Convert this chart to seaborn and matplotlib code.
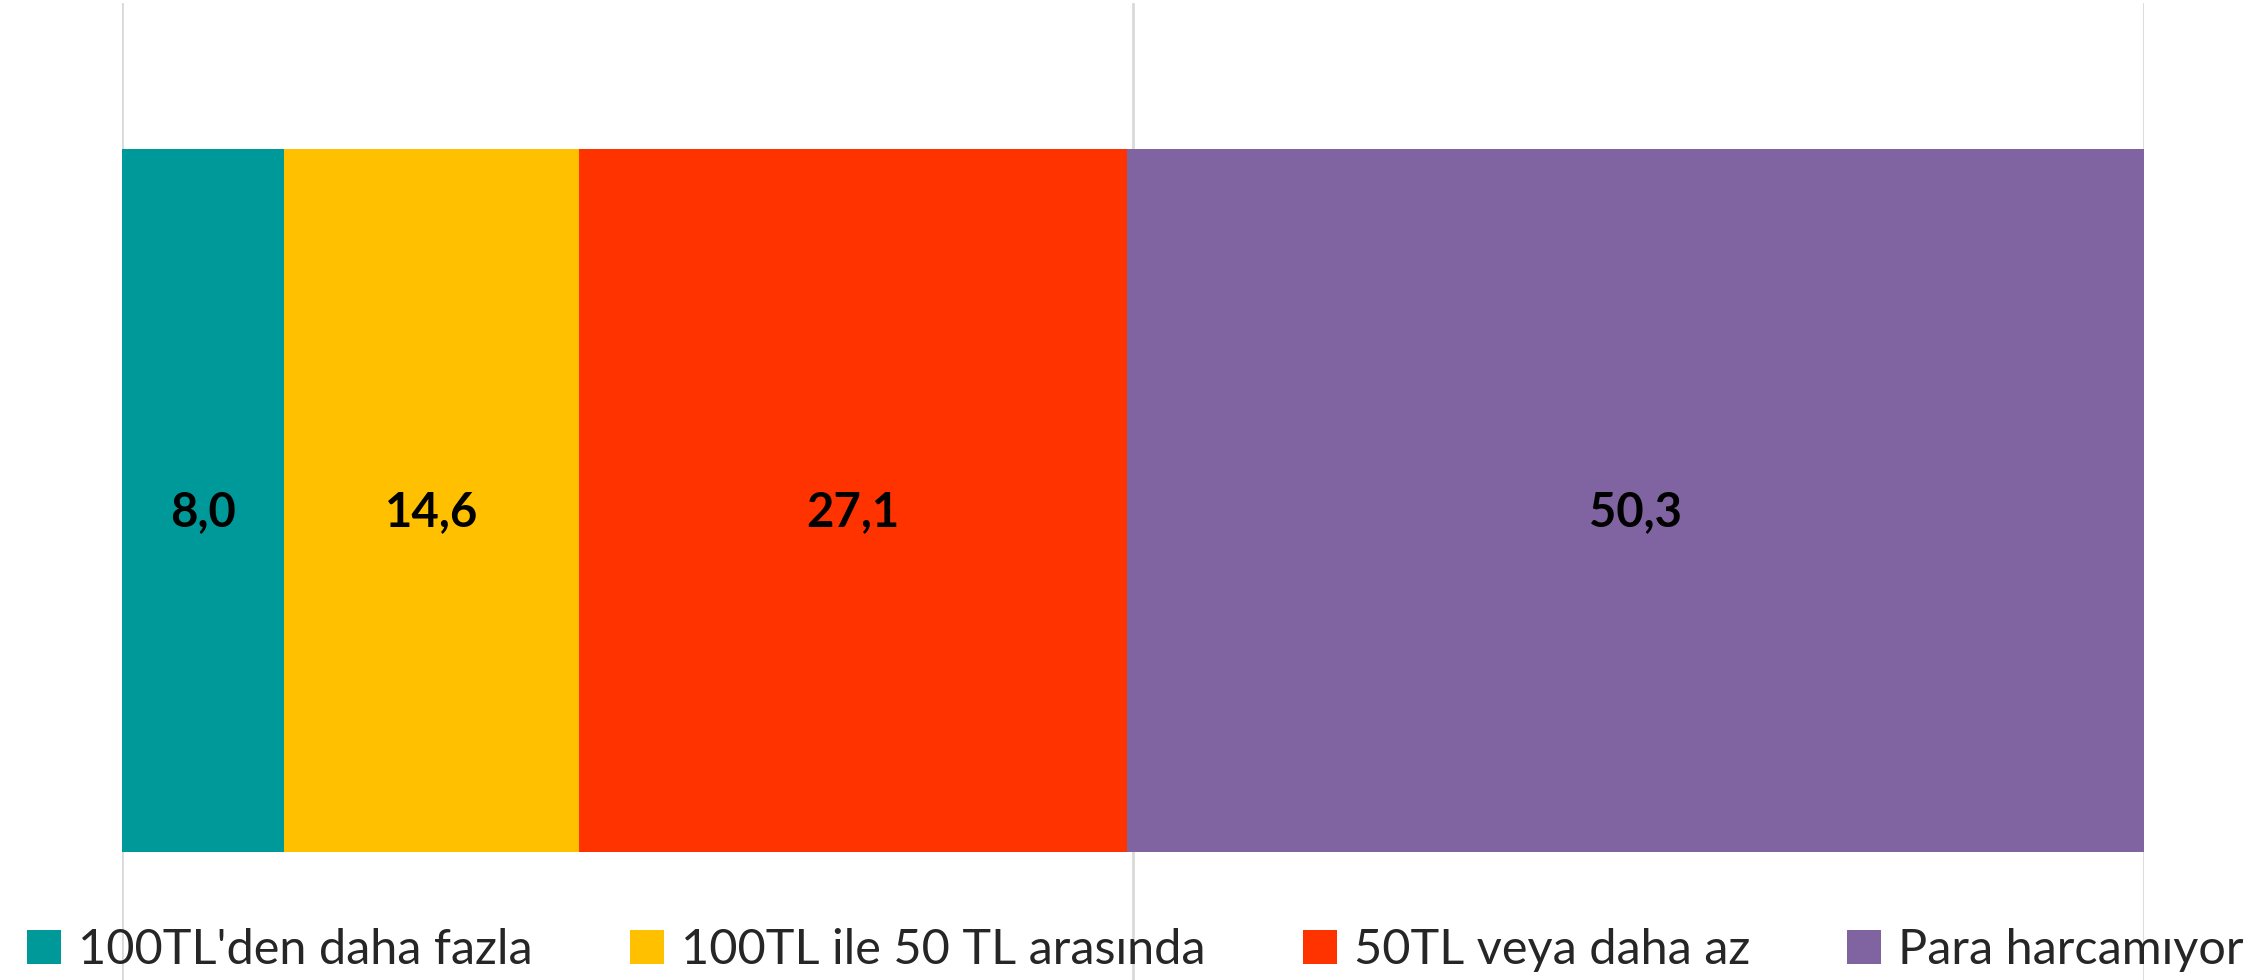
import matplotlib
matplotlib.use("Agg")
import matplotlib.pyplot as plt
import seaborn as sns
import numpy as np
import pandas as pd
from matplotlib.patches import Patch

# veriler
kategoriler = ["100TL'den daha fazla", "100TL ile 50 TL arasında", "50TL veya daha az", "Para harcamıyor"]
degerler = [8.0, 14.6, 27.1, 50.3]
renkler = ["#009999", "#FFC000", "#FF3300", "#8064A2"]

sns.set_theme(style="white")
plt.rcParams['font.family'] = ['Lato', 'DejaVu Sans']

fig = plt.figure(figsize=(22.48, 9.8), dpi=100)
ax = fig.add_axes([122 / 2248, 0, (2144 - 122) / 2248, 977 / 980])

kumulatif = np.cumsum(degerler)
sol = kumulatif - np.array(degerler)

# yığılmış çubuk: en büyük kümülatif önce çizilir
for i in range(3, -1, -1):
    sns.barplot(x=[kumulatif[i]], y=[''], color=renkler[i], orient='h',
                width=0.72, saturation=1, ax=ax, edgecolor='none', linewidth=0)

for s, v in zip(sol, degerler):
    ax.text(s + v / 2, 0.012, f"{v:.1f}".replace('.', ','), ha='center', va='center',
            fontsize=34, fontweight='bold', color='black')

ax.set_xlim(0, 100)
ax.set_ylim(0.4906, -0.5094)
ax.set_xticks([0, 50, 100])
ax.set_yticks([])
ax.set_xticklabels([])
ax.grid(axis='x', color='#D9D9D9', linewidth=2)
ax.set_axisbelow(True)
ax.tick_params(length=0)
ax.set_xlabel('')
ax.set_ylabel('')
for sp in ax.spines.values():
    sp.set_visible(False)

handles = [Patch(facecolor=c, edgecolor='none') for c in renkler]
fig.legend(handles, kategoriler, loc='center', bbox_to_anchor=(0.505, 0.031), ncol=4,
           frameon=False, fontsize=35, handlelength=0.7, handleheight=0.7,
           handletextpad=0.35, columnspacing=2.0)

fig.savefig('out.png', dpi=100, facecolor='white')
